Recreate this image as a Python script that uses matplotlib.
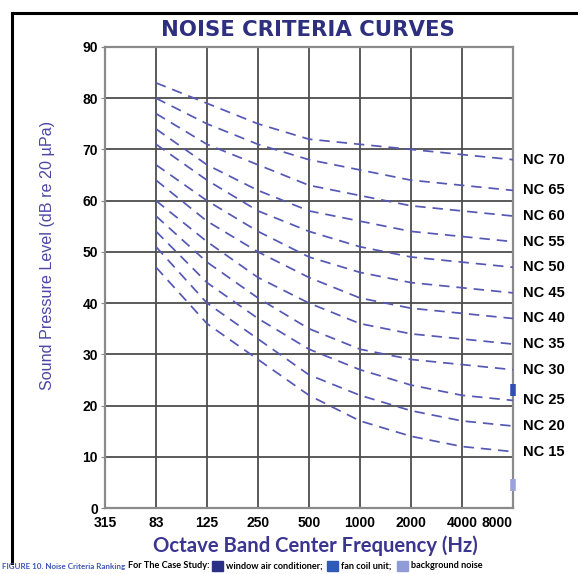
import matplotlib
matplotlib.use("Agg")
import matplotlib.pyplot as plt
from matplotlib.lines import Line2D
from matplotlib.patches import Rectangle

# ---- data ----
freq_labels = ["315", "83", "125", "250", "500", "1000", "2000", "4000", "8000"]
y_ticks = [0, 10, 20, 30, 40, 50, 60, 70, 80, 90]
curve_x = [1, 2, 3, 4, 5, 6, 7, 8]  # category positions 83 .. 8000
nc_names = ["NC 70", "NC 65", "NC 60", "NC 55", "NC 50", "NC 45",
            "NC 40", "NC 35", "NC 30", "NC 25", "NC 20", "NC 15"]
nc70 = [83, 79, 75, 72, 71, 70, 69, 68]
nc65 = [80, 75, 71, 68, 66, 64, 63, 62]
nc60 = [77, 71, 67, 63, 61, 59, 58, 57]
nc55 = [74, 67, 62, 58, 56, 54, 53, 52]
nc50 = [71, 64, 58, 54, 51, 49, 48, 47]
nc45 = [67, 60, 54, 49, 46, 44, 43, 42]
nc40 = [64, 56, 50, 45, 41, 39, 38, 37]
nc35 = [60, 52, 45, 40, 36, 34, 33, 32]
nc30 = [57, 48, 41, 35, 31, 29, 28, 27]
nc25 = [54, 44, 37, 31, 27, 24, 22, 21]
nc20 = [51, 40, 33, 26, 22, 19, 17, 16]
nc15 = [47, 36, 29, 22, 17, 14, 12, 11]
nc_curves = [nc70, nc65, nc60, nc55, nc50, nc45, nc40, nc35, nc30, nc25, nc20, nc15]
# case-study marks visible at the 8000 Hz edge
case_x = [8, 8]
case_y = [23, 4.5]
case_colors = ["#2f4fb5", "#9aa2dc"]
# caption legend
legend_labels = ["window air conditioner;", "fan coil unit;", "background noise"]
legend_colors = ["#2b2f85", "#2f5bb8", "#8f9bd6"]

W, H = 578, 574
fig = plt.figure(figsize=(W / 100, H / 100), dpi=100)
fig.patch.set_facecolor("white")
ax = fig.add_axes([105 / W, 1 - 508 / H, (513 - 105) / W, (508 - 47) / H])

ax.set_xlim(0, 8)
ax.set_ylim(0, 90)

grid_c = "#4d4d4d"
for i in range(1, 8):
    ax.axvline(i, color=grid_c, lw=1.3, zorder=1)
for v in range(10, 90, 10):
    ax.axhline(v, color=grid_c, lw=1.3, zorder=1)

curve_c = "#5558b4"
for vals, name in zip(nc_curves, nc_names):
    ax.plot(curve_x, vals, color=curve_c, lw=1.25, dashes=(6, 4), zorder=3)
    ax.annotate(name, xy=(curve_x[-1], vals[-1]), xycoords="data",
                xytext=(7, 0), textcoords="offset points",
                ha="left", va="center", fontsize=10.5, fontweight="bold",
                family="Liberation Sans", color="black", annotation_clip=False)

for cx, cy, cc in zip(case_x, case_y, case_colors):
    ax.plot([cx], [cy], marker="|", markersize=9, mew=4, color=cc,
            clip_on=False, zorder=5)

for s in ax.spines.values():
    s.set_color("#8a8a8a")
    s.set_linewidth(1.6)

ax.set_xticks(range(9))
ax.set_xticklabels(freq_labels, fontsize=10, fontweight="bold", family="Liberation Sans")
ax.get_xticklabels()[-1].set_ha("right")
ax.set_yticks(y_ticks)
ax.set_yticklabels([str(v) for v in y_ticks], fontsize=10, fontweight="bold",
                   family="Liberation Sans")
ax.tick_params(axis="x", length=0, pad=6)
ax.tick_params(axis="y", length=3, pad=2, color="#8a8a8a")

fig.text(308 / W, 1 - 30 / H, "NOISE CRITERIA CURVES", ha="center", va="center",
         fontsize=15.3, fontweight="heavy", color="#2e2f7f", family="DejaVu Sans")
fig.text(315 / W, 1 - 546 / H, "Octave Band Center Frequency (Hz)", ha="center",
         va="center", fontsize=14.6, fontweight="bold", color="#3b3592", family="Lato")
fig.text(48 / W, 1 - 255 / H, "Sound Pressure Level (dB re 20 \u00b5Pa)", ha="center",
         va="center", rotation=90, fontsize=11.6, color="#4c47a3",
         family="Liberation Sans")

# frame lines
fig.add_artist(Line2D([12 / W, 12 / W], [1 - 13 / H, 1 - 563 / H], color="black", lw=2.2))
fig.add_artist(Line2D([12 / W, 1.0], [1 - 13 / H, 1 - 13 / H], color="black", lw=2.2))

# caption, laid out left to right
renderer = fig.canvas.get_renderer()
cy = 1 - 566 / H
xpix = 2.0


def put(text, color, fs=6.6, gap=3):
    global xpix
    t = fig.text(xpix / W, cy, text, fontsize=fs, fontweight="bold", color=color,
                 va="center", family="Lato")
    xpix += t.get_window_extent(renderer).width + gap


put("FIGURE 10. Noise Criteria Ranking", "#3d55b8", fs=5.8)
put("For The Case Study:", "black", gap=2)
for lab, c in zip(legend_labels, legend_colors):
    fig.add_artist(Rectangle((xpix / W, cy - 5 / H), 11 / W, 10 / H, color=c,
                             transform=fig.transFigure))
    xpix += 14
    put(lab, "black", gap=5)

fig.savefig("out.png", dpi=100)
